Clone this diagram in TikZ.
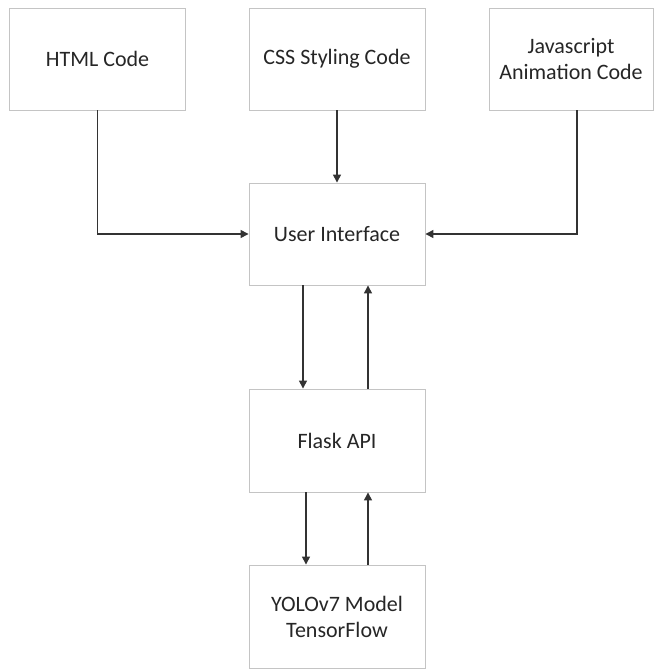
\documentclass[tikz,border=0pt]{standalone}
\usepackage{fontspec}
\setmainfont{Carlito}
\usetikzlibrary{arrows.meta, positioning}
\definecolor{boxline}{HTML}{C4C4C4}
\definecolor{flowline}{HTML}{333333}
\definecolor{labeltext}{HTML}{262626}

\begin{document}
\begin{tikzpicture}[
        x=1pt, y=-1pt,
        block/.style={
            rectangle, draw=boxline, line width=0.9pt, fill=white,
            text=labeltext, font=\fontsize{22}{26}\selectfont,
            minimum width=176pt, minimum height=102pt, align=center,
            inner sep=0pt
        },
        flow/.style={-{Triangle[length=8pt, width=8pt]}, line width=1.4pt, color=flowline},
    ]
    \useasboundingbox (0,0) rectangle (654,669);

    % ---- Source code blocks ----
    \node[block] (html) at (97.5, 59) {HTML Code};
    \node[block] (css) at (337, 59) {CSS Styling Code};
    \node[block, minimum width=164pt] (js) at (571, 59) {Javascript\\Animation Code};

    % ---- Main chain ----
    \node[block] (ui) at (337, 234) {User Interface};
    \node[block, minimum height=103pt] (flask) at (337, 440.5) {Flask API};
    \node[block, minimum height=103pt] (yolo) at (337, 616.5) {YOLOv7 Model\\TensorFlow};

    % ---- Edges: code to interface ----
    \draw[flow] (html.south) |- (ui.west);
    \draw[flow] (css.south) -- (ui.north);
    \draw[flow] ([xshift=6pt]js.south) |- (ui.east);

    % ---- Edges: interface <-> api <-> model ----
    \draw[flow] ([xshift=-34pt]ui.south) -- ([xshift=-34pt]flask.north);
    \draw[flow] ([xshift=31pt]flask.north) -- ([xshift=31pt]ui.south);
    \draw[flow] ([xshift=-31pt]flask.south) -- ([xshift=-31pt]yolo.north);
    \draw[flow] ([xshift=31pt]yolo.north) -- ([xshift=31pt]flask.south);

\end{tikzpicture}
\end{document}
